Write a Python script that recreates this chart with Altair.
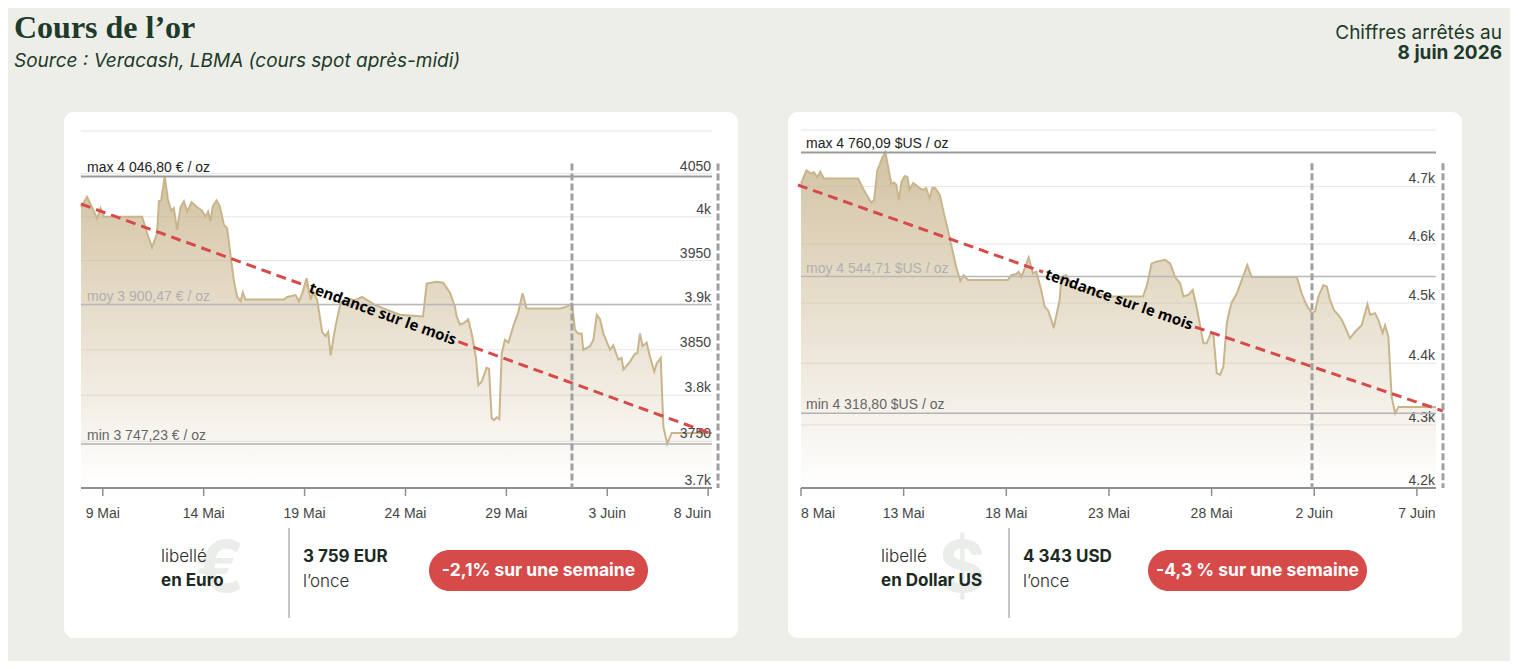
import altair as alt
import pandas as pd

# ------------------------------------------------------------------ data
# x values are calendar days counted from 1 May (1 = 1 May, 32 = 1 June)
EUR_DAYS = [7.92, 8.22, 8.47, 8.72, 8.89, 9.05, 10.95, 11.20, 11.44, 11.69, 11.78, 11.89,
            12.07, 12.22, 12.39, 12.52, 12.68, 12.85, 13.02, 13.18, 13.40, 13.68, 13.92,
            14.09, 14.22, 14.34, 14.45, 14.64, 14.80, 15.00, 15.16, 15.49, 15.66, 15.83,
            15.94, 16.07, 17.97, 18.14, 18.55, 18.72, 18.88, 19.10, 19.30, 19.43, 19.62,
            19.87, 20.04, 20.17, 20.29, 20.53, 20.78, 21.05, 21.49, 21.84, 22.49, 23.13,
            23.72, 24.87, 25.05, 25.54, 25.87, 26.20, 26.45, 26.54, 26.70, 26.90, 27.11,
            27.28, 27.49, 27.61, 27.78, 28.02, 28.14, 28.27, 28.39, 28.52, 28.65, 28.77,
            28.93, 29.10, 29.34, 29.59, 29.80, 30.00, 31.66, 31.99, 32.24, 32.29, 32.40,
            32.56, 32.73, 32.81, 33.14, 33.31, 33.48, 33.64, 33.81, 34.14, 34.30, 34.55,
            34.71, 34.80, 35.13, 35.38, 35.49, 35.62, 35.75, 35.95, 36.12, 36.33, 36.45,
            36.65, 36.78, 36.97, 37.19, 39.19]
EUR_PRICES = [4011, 4023, 4011, 3998, 4010, 4000, 4000, 3981, 3965, 3981, 4018, 4019,
              4046.8, 4021, 4007, 4010, 3985, 4011, 4018, 4006, 4017, 4011, 4007,
              4000, 4006, 3995, 4012, 4019, 4012, 3991, 3987, 3928, 3909, 3904,
              3914, 3906, 3906, 3909, 3911, 3904, 3913, 3930, 3906, 3915, 3906,
              3870, 3865, 3870, 3844, 3876, 3902, 3908, 3905, 3909, 3900, 3894,
              3889, 3887, 3924, 3926, 3925, 3914, 3898, 3887, 3878, 3880, 3884,
              3868, 3842, 3811, 3815, 3830, 3829, 3775, 3773, 3776, 3774, 3846,
              3861, 3858, 3876, 3892, 3913, 3896, 3896, 3898, 3902, 3894, 3872,
              3868, 3868, 3850, 3854, 3861, 3889, 3884, 3868, 3850, 3855, 3839,
              3841, 3828, 3837, 3846, 3846, 3868, 3854, 3858, 3842, 3826, 3835,
              3841, 3766, 3747.23, 3759, 3759]

USD_DAYS = [8.00, 8.26, 8.50, 8.63, 8.79, 8.94, 9.11, 10.78, 11.10, 11.42, 11.56, 11.72,
            11.83, 11.96, 12.11, 12.24, 12.40, 12.53, 12.64, 12.77, 12.89, 13.05, 13.18,
            13.29, 13.46, 13.62, 13.78, 13.94, 14.10, 14.27, 14.40, 14.54, 14.76, 15.00,
            15.16, 15.32, 15.56, 15.76, 15.92, 16.13, 18.08, 18.24, 18.49, 18.60, 18.73,
            18.90, 19.09, 19.30, 19.46, 19.70, 19.87, 20.03, 20.19, 20.31, 20.44, 20.60,
            20.68, 20.92, 21.20, 21.60, 22.10, 22.60, 23.05, 24.66, 24.85, 25.08, 25.31,
            25.73, 25.98, 26.22, 26.47, 26.63, 26.88, 27.08, 27.30, 27.60, 27.76, 27.97,
            28.09, 28.25, 28.41, 28.57, 28.74, 28.82, 28.98, 29.23, 29.47, 29.74, 29.95,
            32.15, 32.39, 32.63, 32.88, 33.04, 33.20, 33.44, 33.61, 33.77, 33.96, 34.17,
            34.34, 34.50, 34.74, 34.99, 35.31, 35.47, 35.59, 35.72, 35.96, 36.12, 36.33,
            36.45, 36.61, 36.77, 36.94, 37.10, 38.93]
USD_PRICES = [4705, 4728, 4723, 4725, 4716, 4726, 4714, 4714, 4691, 4672, 4676, 4729,
              4738, 4751, 4760.09, 4735, 4705, 4707, 4703, 4676, 4708, 4718, 4717,
              4694, 4706, 4702, 4697, 4694, 4697, 4679, 4698, 4697, 4685, 4647,
              4624, 4598, 4561, 4537, 4547, 4539, 4539, 4547, 4549, 4553, 4544,
              4559, 4577, 4550, 4553, 4522, 4494, 4488, 4472, 4458, 4480, 4505,
              4544, 4547, 4530, 4520, 4525, 4515, 4511, 4511, 4530, 4567, 4570,
              4573, 4567, 4544, 4533, 4511, 4514, 4522, 4488, 4433, 4433, 4450,
              4447, 4384, 4381, 4394, 4466, 4480, 4501, 4516, 4539, 4564, 4544,
              4544, 4516, 4496, 4483, 4486, 4511, 4530, 4528, 4505, 4488, 4480,
              4472, 4460, 4441, 4452, 4463, 4483, 4498, 4480, 4483, 4472, 4450,
              4463, 4444, 4345, 4318.8, 4329, 4329]

# monthly trend lines (two pieces, broken where the label sits)
EUR_TREND_DAYS = [7.92, 19.11, 26.62, 39.19]
EUR_TREND_VALUES = [4014.8, 3921.2, 3859.0, 3757.9]
USD_TREND_DAYS = [7.85, 19.79, 27.19, 39.27]
USD_TREND_VALUES = [4702.6, 4552.4, 4460.0, 4322.4]
TREND_PIECE = [0, 0, 1, 1]
TREND_LABEL = "tendance sur le mois"
EUR_TREND_LABEL_AT = [22.87, 3890.0]
USD_TREND_LABEL_AT = [23.49, 4506.0]

STAT_NAMES = ["max", "moy", "min"]
EUR_STATS = [4046.80, 3900.47, 3747.23]
USD_STATS = [4760.09, 4544.71, 4318.80]
UNITS = ["€", "$US"]

# one-week window markers
EUR_WEEK = [32.25, 39.49]
USD_WEEK = [32.89, 39.27]
EUR_WEEK_TOP = 4062
USD_WEEK_TOP = 4741

EUR_X_DOMAIN = [7.92, 39.19]
USD_X_DOMAIN = [8.0, 38.93]
EUR_Y_DOMAIN = [3700, 4100]
USD_Y_DOMAIN = [4200, 4800]

EUR_GRID = [3750, 3800, 3850, 3900, 3950, 4000, 4050, 4100]
USD_GRID = [4300, 4400, 4500, 4600, 4700, 4800]
EUR_Y_TICKS = [3700, 3750, 3800, 3850, 3900, 3950, 4000, 4050]
EUR_Y_LABELS = ["3.7k", "3750", "3.8k", "3850", "3.9k", "3950", "4k", "4050"]
USD_Y_TICKS = [4200, 4300, 4400, 4500, 4600, 4700]
USD_Y_LABELS = ["4.2k", "4.3k", "4.4k", "4.5k", "4.6k", "4.7k"]
EUR_X_TICKS = [9, 14, 19, 24, 29, 34, 39]
EUR_X_LABELS = ["9 Mai", "14 Mai", "19 Mai", "24 Mai", "29 Mai", "3 Juin", "8 Juin"]
USD_X_TICKS = [8, 13, 18, 23, 28, 33, 38]
USD_X_LABELS = ["8 Mai", "13 Mai", "18 Mai", "23 Mai", "28 Mai", "2 Juin", "7 Juin"]

TITLE = "Cours de l’or"
SUBTITLE = "Source : Veracash, LBMA (cours spot après-midi)"
DATE_NOTE = ["Chiffres arrêtés au", "8 juin 2026"]
LIBELLE = "libellé"
CURRENCY = ["en Euro", "en Dollar US"]
SYMBOL = ["€", "$"]
PRICE_TXT = ["3 759 EUR", "4 343 USD"]
ONCE = "l’once"
WEEK_TXT = ["-2,1% sur une semaine", "-4,3 % sur une semaine"]

# ------------------------------------------------------------------ style
W, H = 674, 526
BG = "#eeeee9"
INK = "#1d3a2a"
RED = "#d64a4a"
SANS = "Liberation Sans"
UI = "Inter"
AXIS_GREY = "#8f8f8f"


def fr(v):
    return f"{v:,.2f}".replace(",", " ").replace(".", ",")


def one(t):
    return pd.DataFrame({"t": [t]})


def deco_text(txt, x, y, **mark):
    return alt.Chart(one(txt)).mark_text(**mark).encode(
        text="t:N", x=alt.value(x), y=alt.value(y))


def panel(days, prices, xdom, ydom, xr, yr, grid, yticks, ylabels, xticks, xlabels,
          stats, unit, week, week_top, tdays, tvals, tlabel_at, tangle, label_dx, foot):
    xs = alt.Scale(domain=xdom, range=xr, nice=False, zero=False)
    ys = alt.Scale(type="log", domain=ydom, range=yr, nice=False)

    def X(field):
        return alt.X(field, scale=xs, axis=None)

    def Y(field):
        return alt.Y(field, scale=ys, axis=None)

    def XD(v):
        return alt.XDatum(v, scale=xs, axis=None)

    def YD(v):
        return alt.YDatum(v, scale=ys, axis=None)

    layers = []
    # horizontal grid
    layers.append(alt.Chart(pd.DataFrame({"g": grid})).mark_rule(
        color="#e6e6e6", strokeWidth=1).encode(
        y=Y("g:Q"), x=XD(xdom[0]), x2=alt.datum(xdom[1])))

    # price area + line
    grad = alt.Gradient(gradient="linear",
                        stops=[alt.GradientStop(color="rgba(200,180,140,0.8)", offset=0),
                               alt.GradientStop(color="rgba(200,180,140,0.0)", offset=1)],
                        x1=0, x2=0, y1=0, y2=1)
    base = alt.Chart(pd.DataFrame({"day": days, "price": prices}))
    layers.append(base.mark_area(color=grad).encode(
        x=X("day:Q"), y=Y("price:Q"), y2=alt.datum(ydom[0])))
    layers.append(base.mark_line(color="#c9b58c", strokeWidth=2).encode(
        x=X("day:Q"), y=Y("price:Q")))

    # x axis (domain line, ticks, labels)
    layers.append(alt.Chart(one(0)).mark_rule(color=AXIS_GREY, strokeWidth=2).encode(
        x=XD(xdom[0]), x2=alt.datum(xdom[1]), y=YD(ydom[0])))
    layers.append(alt.Chart(pd.DataFrame({"d": xticks})).mark_rule(
        color=AXIS_GREY, strokeWidth=1.5).encode(
        x=X("d:Q"), y=YD(ydom[0]), y2=alt.value(yr[0] + 8)))
    groups = {"left": [], "center": [], "right": []}
    for d, lab in zip(xticks, xlabels):
        px = xr[0] + (d - xdom[0]) / (xdom[1] - xdom[0]) * (xr[1] - xr[0])
        a = "left" if px - xr[0] <= 10 else "right" if xr[1] - px <= 10 else "center"
        groups[a].append((d, lab))
    for a, items in groups.items():
        if not items:
            continue
        df = pd.DataFrame({"d": [i[0] for i in items], "l": [i[1] for i in items]})
        layers.append(alt.Chart(df).mark_text(
            align=a, baseline="middle", font=SANS, fontSize=14, color="#444",
            dx=3 if a == "right" else 0).encode(
            x=X("d:Q"), y=alt.value(yr[0] + 26), text="l:N"))

    # y labels (inside the plot, right aligned, above the grid line)
    layers.append(alt.Chart(pd.DataFrame({"v": yticks, "l": ylabels})).mark_text(
        align="right", baseline="alphabetic", dx=-1, dy=-3, font=SANS, fontSize=14,
        color="#444").encode(y=Y("v:Q"), x=XD(xdom[1]), text="l:N"))

    # max / moy / min
    rule_col = ["#9c9c9c", "#b8b8b8", "#b3b3b3"]
    rule_w = [2, 1.5, 1.5]
    txt_col = ["#222222", "#b0b0b0", "#666666"]
    for name, v, rc, rw, tc in zip(STAT_NAMES, stats, rule_col, rule_w, txt_col):
        df = pd.DataFrame({"v": [v], "t": [f"{name} {fr(v)} {unit} / oz"]})
        layers.append(alt.Chart(df).mark_rule(color=rc, strokeWidth=rw).encode(
            y=Y("v:Q"), x=XD(xdom[0]), x2=alt.datum(xdom[1])))
        layers.append(alt.Chart(df).mark_text(
            align="left", baseline="alphabetic", dx=label_dx, dy=-4, font=SANS,
            fontSize=14, color=tc).encode(text="t:N", y=Y("v:Q"), x=XD(xdom[0])))

    # trend
    tdf = pd.DataFrame({"d": tdays, "v": tvals, "s": TREND_PIECE})
    layers.append(alt.Chart(tdf).mark_line(color=RED, strokeWidth=3, strokeDash=[10, 6]).encode(
        x=X("d:Q"), y=Y("v:Q"), detail="s:N"))
    layers.append(alt.Chart(one(TREND_LABEL)).mark_text(
        angle=tangle, font="Open Sans", fontWeight="bold", fontSize=15, color="#000",
        align="center", baseline="middle").encode(
        text="t:N", x=XD(tlabel_at[0]), y=YD(tlabel_at[1])))

    # one-week markers
    layers.append(alt.Chart(pd.DataFrame({"d": week})).mark_rule(
        color="#a0a0a0", strokeWidth=3, strokeDash=[7, 3]).encode(
        x=X("d:Q"), y=YD(week_top), y2=alt.datum(ydom[0])))

    # footer
    layers.append(deco_text(foot["symbol"], foot["sym_x"], 458, font=UI, fontSize=72,
                            fontWeight="bold", color="#eaedea", align="center",
                            baseline="middle"))
    layers.append(deco_text(LIBELLE, foot["lx"], 445, font=UI, fontSize=17, fontWeight=300,
                            color="#2b2b2b", align="left", baseline="middle"))
    layers.append(deco_text(foot["cur"], foot["lx"], 469, font=UI, fontSize=17,
                            fontWeight="bold", color="#1b2a22", align="left",
                            baseline="middle"))
    layers.append(alt.Chart(one(0)).mark_rule(color="#8c8c8c", strokeWidth=1).encode(
        x=alt.value(foot["sep"]), y=alt.value(416), y2=alt.value(506)))
    layers.append(deco_text(foot["price"], foot["sep"] + 14, 445, font=UI, fontSize=17,
                            fontWeight="bold", color="#1b2a22", align="left",
                            baseline="middle"))
    layers.append(deco_text(ONCE, foot["sep"] + 14, 470, font=UI, fontSize=17, fontWeight=300,
                            color="#2b2b2b", align="left", baseline="middle"))
    layers.append(alt.Chart(one(0)).mark_rect(color=RED, cornerRadius=20.5).encode(
        x=alt.value(foot["pill"]), x2=alt.value(foot["pill"] + 219),
        y=alt.value(438), y2=alt.value(479)))
    layers.append(deco_text(foot["week"], foot["pill"] + 109.5, 459, font=UI, fontSize=17.5,
                            fontWeight="bold", color="white", align="center",
                            baseline="middle"))
    return layers


left_layers = panel(EUR_DAYS, EUR_PRICES, EUR_X_DOMAIN, EUR_Y_DOMAIN, [17, 648], [376, 19],
                    EUR_GRID, EUR_Y_TICKS, EUR_Y_LABELS, EUR_X_TICKS, EUR_X_LABELS,
                    EUR_STATS, UNITS[0], EUR_WEEK, EUR_WEEK_TOP, EUR_TREND_DAYS,
                    EUR_TREND_VALUES, EUR_TREND_LABEL_AT, 20, 6,
                    dict(symbol=SYMBOL[0], sym_x=156, lx=97, cur=CURRENCY[0], sep=225,
                         price=PRICE_TXT[0], pill=365, week=WEEK_TXT[0]))
right_layers = panel(USD_DAYS, USD_PRICES, USD_X_DOMAIN, USD_Y_DOMAIN, [13, 648], [376, 18],
                     USD_GRID, USD_Y_TICKS, USD_Y_LABELS, USD_X_TICKS, USD_X_LABELS,
                     USD_STATS, UNITS[1], USD_WEEK, USD_WEEK_TOP, USD_TREND_DAYS,
                     USD_TREND_VALUES, USD_TREND_LABEL_AT, 19.3, 5,
                     dict(symbol=SYMBOL[1], sym_x=174, lx=93, cur=CURRENCY[1], sep=221,
                          price=PRICE_TXT[1], pill=360, week=WEEK_TXT[1]))

# page header (placed relative to the left card) and page extent
header = [
    deco_text(TITLE, -50, -74, font="Liberation Serif", fontSize=32, fontWeight="bold",
              color=INK, align="left", baseline="alphabetic"),
    deco_text(SUBTITLE, -50, -45, font=UI, fontSize=19, fontStyle="italic", color=INK,
              align="left", baseline="alphabetic"),
    deco_text(DATE_NOTE[0], 1438, -73, font=UI, fontSize=19, color=INK, align="right",
              baseline="alphabetic"),
    deco_text(DATE_NOTE[1], 1438, -53, font=UI, fontSize=19, fontWeight="bold", color=INK,
              align="right", baseline="alphabetic"),
    alt.Chart(one(0)).mark_rect(opacity=0).encode(
        x=alt.value(-56), x2=alt.value(1446), y=alt.value(-104), y2=alt.value(549)),
]

left = alt.layer(*(left_layers + header)).properties(width=W, height=H)
right = alt.layer(*right_layers).properties(width=W, height=H)

chart = alt.hconcat(left, right, spacing=50, bounds="flush").properties(
    padding=0, background=BG
).configure_view(fill="white", strokeWidth=0, cornerRadius=10)

chart.save("out.html", embed_options={"renderer": "svg", "actions": False})
